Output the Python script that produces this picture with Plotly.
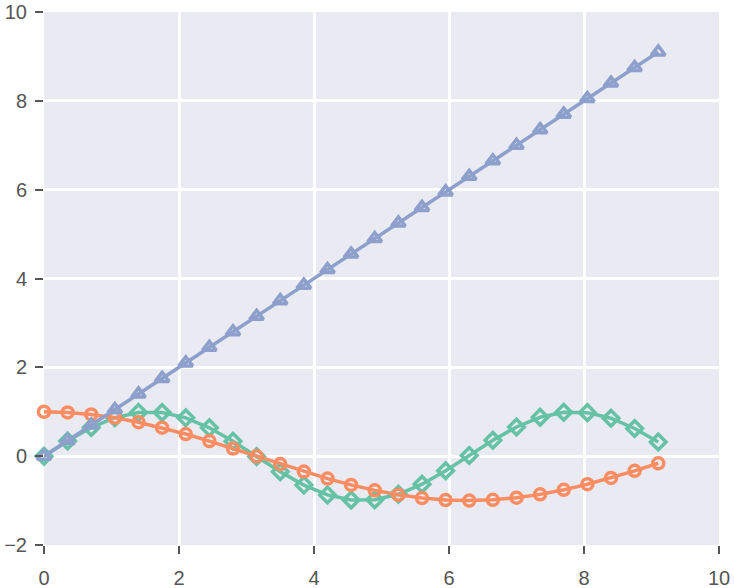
import plotly.graph_objects as go

x = [0, 0.35, 0.7, 1.05, 1.4, 1.75, 2.1, 2.45, 2.8, 3.15, 3.5, 3.85, 4.2, 4.55,
     4.9, 5.25, 5.6, 5.95, 6.3, 6.65, 7.0, 7.35, 7.7, 8.05, 8.4, 8.75, 9.1]
green_y = [0, 0.343, 0.644, 0.867, 0.985, 0.984, 0.863, 0.638, 0.335, -0.008,
           -0.351, -0.651, -0.872, -0.987, -0.982, -0.859, -0.631, -0.327, 0.017,
           0.359, 0.657, 0.876, 0.988, 0.980, 0.855, 0.624, 0.319]
orange_y = [1.0, 0.985, 0.939, 0.865, 0.765, 0.641, 0.498, 0.339, 0.170, -0.004,
            -0.178, -0.347, -0.505, -0.647, -0.770, -0.870, -0.942, -0.987, -1.0,
            -0.983, -0.936, -0.860, -0.758, -0.632, -0.490, -0.330, -0.160]
blue_y = [0, 0.35, 0.7, 1.05, 1.4, 1.75, 2.1, 2.45, 2.8, 3.15, 3.5, 3.85, 4.2, 4.55,
          4.9, 5.25, 5.6, 5.95, 6.3, 6.65, 7.0, 7.35, 7.7, 8.05, 8.4, 8.75, 9.1]
tick_vals = [0, 2, 4, 6, 8, 10]
y_tick_vals = [-2, 0, 2, 4, 6, 8, 10]

fig = go.Figure()
series = [
    (green_y, "#66c2a5", "diamond-open", 12),
    (orange_y, "#fc8d62", "circle-open", 11),
    (blue_y, "#8da0cb", "triangle-up-open", 12),
]
for ys, col, sym, sz in series:
    fig.add_trace(go.Scatter(
        x=x, y=ys, mode="lines+markers",
        line=dict(color=col, width=3.5),
        marker=dict(symbol=sym, size=sz, color=col, line=dict(color=col, width=3.5)),
        showlegend=False, cliponaxis=False,
    ))

axis_common = dict(
    showgrid=True, gridcolor="white", gridwidth=2.5,
    zeroline=False, showline=False, automargin=False,
    ticks="outside", ticklen=8, tickwidth=1.5, tickcolor="#555555",
    tickfont=dict(family="Liberation Sans, Arial", size=20, color="#555555"),
)
fig.update_xaxes(range=[0, 10], tickvals=tick_vals, ticklabelstandoff=7, **axis_common)
fig.update_yaxes(range=[-2, 10], tickvals=y_tick_vals, ticklabelstandoff=4, **axis_common)

fig.update_layout(
    width=734, height=588,
    margin=dict(l=44, r=15, t=12, b=43),
    plot_bgcolor="#eaeaf2", paper_bgcolor="white",
)
fig.write_html("out.html", config={"displayModeBar": False},
               post_script="document.body.style.margin='0';document.body.style.overflow='hidden';")
